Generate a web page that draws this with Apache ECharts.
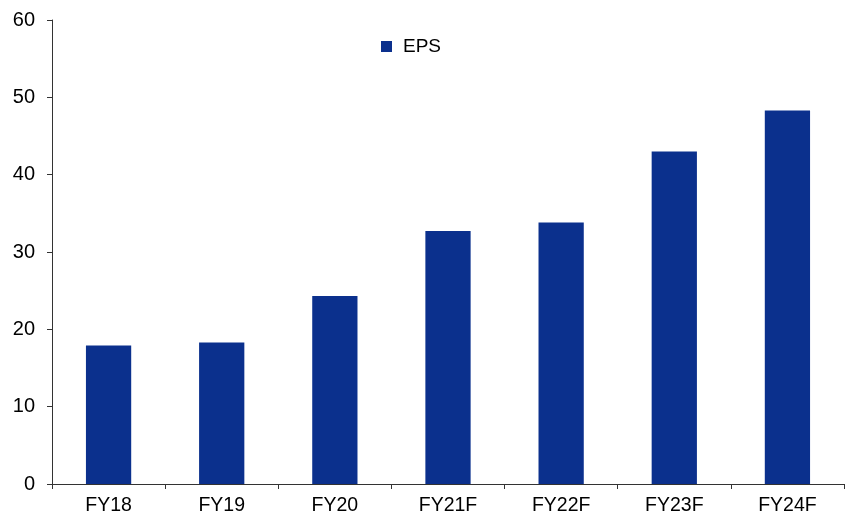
<!DOCTYPE html>
<html>
<head>
<meta charset="utf-8">
<script src="https://cdn.jsdelivr.net/npm/echarts@6/dist/echarts.min.js"></script>
<style>
html,body{margin:0;padding:0;background:#fff;}
#main{width:850px;height:517px;}
</style>
</head>
<body>
<div id="main"></div>
<script>
// categories and values
var years = ['FY18', 'FY19', 'FY20', 'FY21F', 'FY22F', 'FY23F', 'FY24F'];
var eps = [17.9, 18.3, 24.3, 32.7, 33.8, 43.0, 48.3];

var myChart = echarts.init(document.getElementById('main'));
var font = 'Liberation Sans, Arial, sans-serif';
var option = {
    animation: false,
    legend: {
        data: ['EPS'],
        left: 376,
        top: 32,
        icon: 'rect',
        itemWidth: 11,
        itemHeight: 11,
        textStyle: { fontFamily: font, fontSize: 19, color: '#000', padding: [0, 0, 0, 6] }
    },
    grid: { left: 52, right: 6, top: 20, bottom: 33 },
    xAxis: {
        type: 'category',
        data: years,
        axisLine: { lineStyle: { color: '#333', width: 1 } },
        axisTick: { show: true, length: 5, lineStyle: { color: '#333' } },
        axisLabel: { fontFamily: font, fontSize: 19.5, color: '#000', margin: 12 }
    },
    yAxis: {
        type: 'value',
        min: 0,
        max: 60,
        interval: 10,
        axisLine: { show: true, lineStyle: { color: '#333', width: 1 } },
        axisTick: { show: true, length: 5, lineStyle: { color: '#333' } },
        splitLine: { show: false },
        axisLabel: { fontFamily: font, fontSize: 20, color: '#000', margin: 17 }
    },
    series: [
        {
            name: 'EPS',
            type: 'bar',
            data: eps,
            barWidth: '40%',
            itemStyle: { color: '#0B308D' }
        }
    ]
};
myChart.setOption(option);
</script>
</body>
</html>
